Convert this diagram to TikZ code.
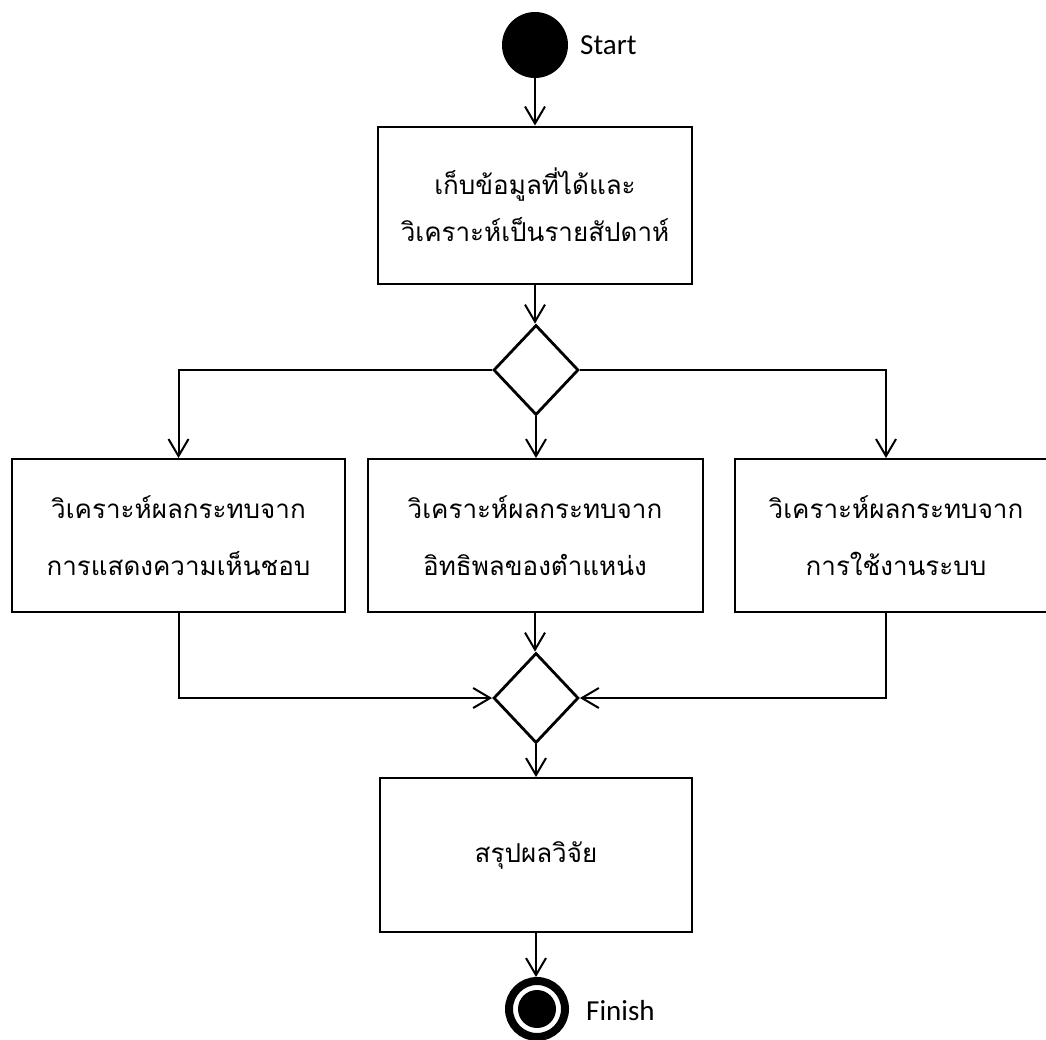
\documentclass[tikz,border=0pt]{standalone}
\usepackage{fontspec}
\newfontfamily\thaifont[Script=Thai]{Loma}
\newfontfamily\labelfont{Carlito}
\usetikzlibrary{shapes.geometric,arrows.meta}

\begin{document}
\begin{tikzpicture}[x=1pt,y=-1pt,
  actbox/.style={draw,line width=2pt,inner sep=0pt,align=center,
    font=\thaifont\fontsize{26}{57}\selectfont},
  decide/.style={draw,diamond,line width=2.8pt,inner sep=0pt,
    minimum width=85pt,minimum height=90pt},
  flow/.style={line width=2pt,-{Straight Barb[length=17pt,width=20pt,line width=2pt]}},
  tag/.style={anchor=west,inner sep=0pt,font=\labelfont\fontsize{29}{34}\selectfont}]

  \useasboundingbox (0,0) rectangle (1046,1039);

  % initial and final states
  \node[circle,fill=black,minimum size=66pt,inner sep=0pt] (start) at (535,45) {};
  \node[tag] (startlbl) at (580,45) {Start};

  \node[circle,draw=black,line width=8pt,minimum size=56pt,inner sep=0pt] (finish) at (537,1009) {};
  \node[circle,fill=black,minimum size=38pt,inner sep=0pt] (finishdot) at (finish.center) {};
  \node[tag] (finishlbl) at (586,1011) {Finish};

  % activities
  \node[actbox,minimum width=314pt,minimum height=157pt,
    font=\thaifont\fontsize{26}{47}\selectfont] (collect) at (535,205)
    {เก็บข้อมูลที่ได้และ\\วิเคราะห์เป็นรายสัปดาห์};

  \node[decide] (split) at (536,370) {};

  \node[actbox,minimum width=333pt,minimum height=153pt] (likes) at (178.5,535.5)
    {วิเคราะห์ผลกระทบจาก\\การแสดงความเห็นชอบ};
  \node[actbox,minimum width=335pt,minimum height=153pt] (position) at (535,535.5)
    {วิเคราะห์ผลกระทบจาก\\อิทธิพลของตำแหน่ง};
  \node[actbox,minimum width=322pt,minimum height=153pt] (usage) at (896,535.5)
    {วิเคราะห์ผลกระทบจาก\\การใช้งานระบบ};

  \node[decide] (merge) at (536,698) {};

  \node[actbox,minimum width=312pt,minimum height=154pt] (conclude) at (536,855)
    {สรุปผลวิจัย};

  % control flow
  \draw[flow] (start.south) -- (start.south |- collect.north);
  \draw[flow] (collect.south) -- (collect.south |- split.north);
  \draw[flow] (split.west) -| (likes.north);
  \draw[flow] (split.south) -- (split.south |- position.north);
  \draw[flow] (split.east) -| ([xshift=-10pt]usage.north);

  \draw[flow] (likes.south) |- (merge.west);
  \draw[flow] (position.south) -- (position.south |- merge.north);
  \draw[flow] ([xshift=-10pt]usage.south) |- (merge.east);
  \draw[flow] (merge.south) -- (merge.south |- conclude.north);
  \draw[flow] (conclude.south) -- (conclude.south |- finish.north);
\end{tikzpicture}
\end{document}
